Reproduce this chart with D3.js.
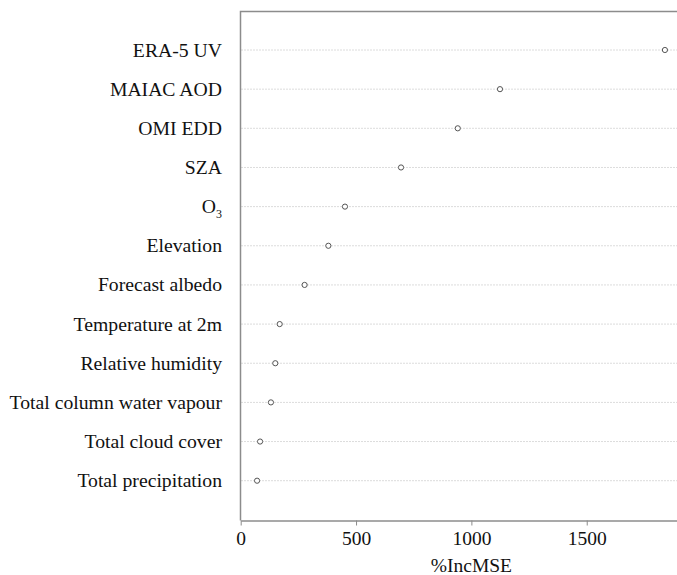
<!DOCTYPE html>
<meta charset="utf-8">
<style>
  body { margin: 0; background: #fff; }
  svg text { font-family: "Liberation Serif", "Times New Roman", serif; fill: #111; }
</style>
<body>
<div id="chart"></div>
<script src="https://cdn.jsdelivr.net/npm/d3@7/dist/d3.min.js"></script>
<script>

// variables, top to bottom
var variables = ["ERA-5 UV", "MAIAC AOD", "OMI EDD", "SZA", "O3", "Elevation",
  "Forecast albedo", "Temperature at 2m", "Relative humidity",
  "Total column water vapour", "Total cloud cover", "Total precipitation"];
// %IncMSE
var incMSE = [1839, 1124, 941, 695, 452, 380, 277, 169, 150, 131, 84, 71];
var xTicks = [0, 500, 1000, 1500];

var width = 677, height = 575;

var svg = d3.select("#chart").append("svg")
    .attr("width", width)
    .attr("height", height);

var x = d3.scaleLinear()
    .domain([0, 1900])
    .range([240.7, 679]);

var y = d3.scalePoint()
    .domain(variables)
    .range([50, 480.7]);

var top_y = 11.5, bottom_y = 520.5, left_x = 240.5;

// dotted guide lines
svg.append("g")
  .selectAll("line")
  .data(variables)
  .enter().append("line")
    .attr("x1", left_x + 1)
    .attr("x2", width)
    .attr("y1", function(d) { return y(d); })
    .attr("y2", function(d) { return y(d); })
    .attr("stroke", "#b8b8b8")
    .attr("stroke-width", 1)
    .attr("stroke-dasharray", "1,2");

// frame: top + left
svg.append("path")
    .attr("d", "M" + width + "," + top_y + "H" + left_x + "V" + bottom_y)
    .attr("fill", "none")
    .attr("stroke", "#8c8c8c")
    .attr("stroke-width", 1.5);

// x axis
var xAxis = svg.append("g")
    .attr("transform", "translate(0," + bottom_y + ")")
    .call(d3.axisBottom(x).tickValues(xTicks).tickFormat(d3.format("d"))
      .tickSize(5).tickPadding(6).tickSizeOuter(0));

xAxis.select(".domain").attr("stroke", "#8c8c8c").attr("stroke-width", 1.5);
xAxis.selectAll(".tick line").attr("stroke", "#8c8c8c");
xAxis.selectAll(".tick text")
    .style("font-size", "19.5px")
    .style("font-family", "'Liberation Serif', 'Times New Roman', serif")
    .attr("fill", "#111");

svg.append("text")
    .attr("x", x(1000))
    .attr("y", 572)
    .attr("text-anchor", "middle")
    .style("font-size", "19.5px")
    .text("%IncMSE");

// y labels
var labels = svg.append("g")
  .selectAll("text")
  .data(variables)
  .enter().append("text")
    .attr("x", 222)
    .attr("y", function(d) { return y(d) + 6.5; })
    .attr("text-anchor", "end")
    .style("font-size", "19.7px");

labels.each(function(d) {
  var t = d3.select(this);
  if (d === "O3") {
    t.append("tspan").text("O");
    t.append("tspan").attr("dy", 5).style("font-size", "12px").text("3");
  } else {
    t.text(d);
  }
});

// points
svg.append("g")
  .selectAll("circle")
  .data(variables)
  .enter().append("circle")
    .attr("cx", function(d, i) { return x(incMSE[i]); })
    .attr("cy", function(d) { return y(d); })
    .attr("r", 2.6)
    .attr("fill", "#fff")
    .attr("stroke", "#555")
    .attr("stroke-width", 1);

</script>
</body>
